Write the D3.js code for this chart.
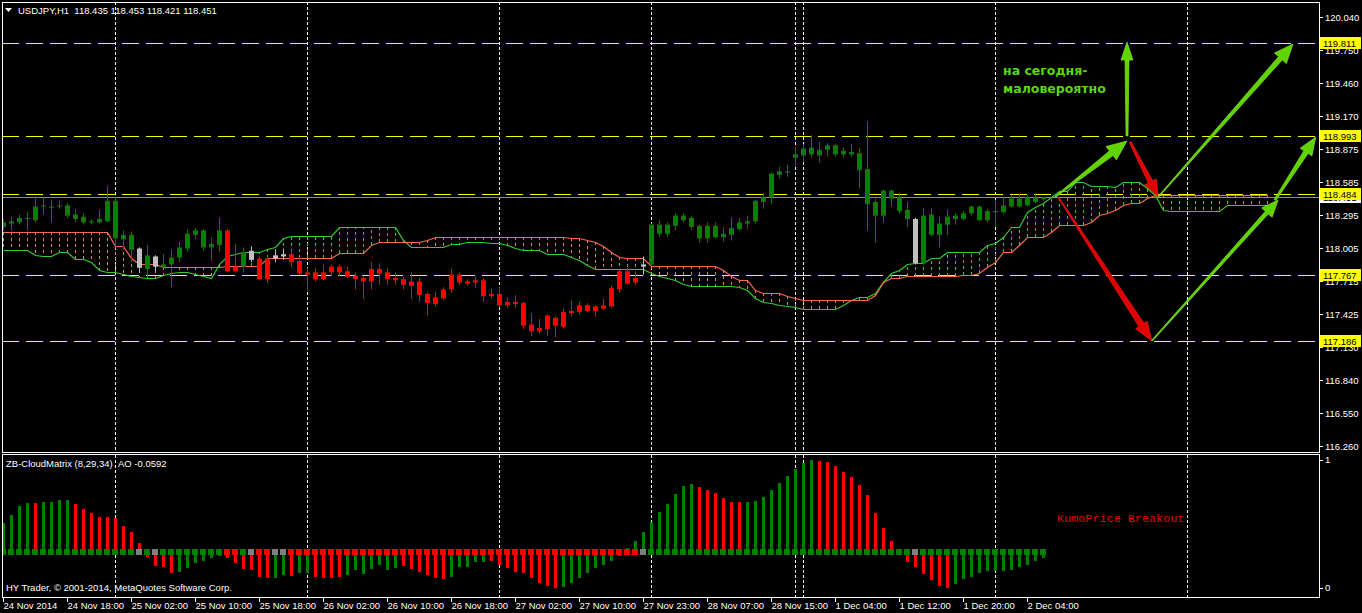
<!DOCTYPE html>
<html><head><meta charset="utf-8">
<script src="https://cdn.jsdelivr.net/npm/d3@7"></script>
<style>
body{margin:0;background:#000;overflow:hidden}
svg{display:block}
text{font-family:"Liberation Sans",Arial,sans-serif}
</style></head>
<body><svg id="c" width="1362" height="613"></svg>
<script>
// ---------------- DATA ----------------
const symbolHeader = "USDJPY,H1\u00A0\u00A0118.435 118.453 118.421 118.451";
const indicatorHeader = "ZB-CloudMatrix (8,29,34)\u00A0\u00A0AO -0.0592";
const copyright = "HY Trader, \u00A9 2001-2014, MetaQuotes Software Corp.";

const candleOpen = [118.19,118.22,118.23,118.26,118.25,118.37,118.36,118.37,118.29,118.26,
118.23,118.23,118.23,118.24,118.09,118.08,117.99,117.83,117.82,117.84,
117.84,117.86,117.92,118.00,118.12,118.01,118.01,118.03,118.16,117.84,
117.84,117.90,117.91,117.91,117.91,117.93,117.95,117.89,117.79,117.79,
117.79,117.84,117.84,117.80,117.76,117.74,117.82,117.82,117.79,117.74,
117.73,117.71,117.71,117.60,117.57,117.64,117.77,117.77,117.71,117.72,
117.72,117.60,117.60,117.53,117.53,117.52,117.33,117.30,117.41,117.39,
117.44,117.45,117.50,117.50,117.49,117.50,117.65,117.80,117.80,117.74,
117.84,117.86,118.13,118.13,118.20,118.25,118.19,118.09,118.09,118.10,
118.10,118.12,118.17,118.22,118.24,118.41,118.45,118.65,118.67,118.80,
118.82,118.83,118.82,118.87,118.83,118.83,118.83,118.69,118.39,118.29,
118.29,118.44,118.33,118.26,117.87,117.87,118.12,118.12,118.21,118.26,
118.26,118.31,118.25,118.25,118.32,118.32,118.37,118.37,118.38,118.41,
118.435];
const candleHigh = [118.26,118.28,118.30,118.32,118.46,118.45,118.43,118.42,118.40,118.35,
118.31,118.26,118.34,118.55,118.45,118.16,118.15,118.01,118.03,117.94,
117.95,117.99,118.06,118.17,118.18,118.17,118.10,118.27,118.17,118.04,
118.01,118.02,117.93,117.93,117.99,118.00,117.98,117.92,117.83,117.83,
117.86,117.86,117.86,117.84,117.79,117.76,117.88,117.87,117.83,117.79,
117.75,117.79,117.74,117.61,117.62,117.66,117.82,117.79,117.73,117.75,
117.74,117.65,117.66,117.57,117.59,117.53,117.43,117.38,117.42,117.40,
117.47,117.54,117.53,117.52,117.50,117.56,117.67,117.81,117.83,117.80,
117.93,118.22,118.25,118.23,118.31,118.31,118.29,118.21,118.23,118.23,
118.19,118.27,118.27,118.29,118.43,118.49,118.67,118.72,118.74,118.90,
118.92,119.00,118.94,118.93,118.92,118.89,118.92,118.89,119.12,118.44,
118.52,118.52,118.49,118.41,118.27,118.36,118.36,118.28,118.34,118.31,
118.33,118.38,118.38,118.35,118.43,118.45,118.47,118.48,118.47,118.49,
118.453];
const candleLow = [118.16,118.16,118.21,118.16,118.23,118.30,118.23,118.35,118.27,118.23,
118.21,118.21,118.22,118.23,118.03,117.99,117.88,117.79,117.75,117.79,
117.83,117.66,117.88,117.97,118.08,117.98,117.89,117.97,117.79,117.79,
117.79,117.88,117.72,117.70,117.88,117.90,117.84,117.77,117.63,117.71,
117.72,117.76,117.76,117.74,117.64,117.56,117.64,117.68,117.68,117.68,
117.64,117.56,117.53,117.41,117.49,117.55,117.61,117.68,117.67,117.65,
117.53,117.56,117.48,117.48,117.48,117.29,117.23,117.25,117.23,117.22,
117.30,117.40,117.42,117.44,117.40,117.46,117.48,117.61,117.68,117.68,
117.77,117.85,118.10,118.10,118.16,118.23,118.16,118.05,118.05,118.09,
118.06,118.07,118.16,118.17,118.22,118.35,118.39,118.62,118.63,118.72,
118.77,118.80,118.76,118.81,118.81,118.80,118.81,118.53,118.16,118.05,
118.23,118.37,118.31,118.19,117.86,117.86,118.11,118.01,118.12,118.21,
118.25,118.29,118.24,118.23,118.19,118.31,118.36,118.36,118.37,118.40,
118.421];
const candleClose = [118.23,118.24,118.27,118.27,118.37,118.38,118.37,118.38,118.38,118.30,
118.28,118.24,118.26,118.42,118.42,118.12,118.12,118.00,117.94,117.93,
117.86,117.92,118.01,118.13,118.16,118.16,118.04,118.16,117.80,117.80,
117.97,117.98,117.73,117.73,117.94,117.95,117.88,117.78,117.77,117.73,
117.73,117.79,117.79,117.75,117.73,117.71,117.71,117.78,117.73,117.72,
117.68,117.67,117.59,117.52,117.51,117.56,117.64,117.70,117.69,117.70,
117.58,117.58,117.50,117.50,117.51,117.32,117.27,117.27,117.29,117.32,
117.31,117.43,117.44,117.45,117.45,117.47,117.49,117.64,117.69,117.70,
117.86,118.21,118.21,118.21,118.29,118.29,118.27,118.20,118.20,118.20,
118.13,118.18,118.23,118.24,118.42,118.45,118.66,118.68,118.68,118.83,
118.88,118.89,118.87,118.91,118.91,118.86,118.85,118.84,118.70,118.41,
118.51,118.51,118.45,118.34,118.26,118.29,118.30,118.22,118.28,118.29,
118.31,118.37,118.37,118.33,118.33,118.38,118.44,118.44,118.45,118.45,
118.451];
// candle / state colour per bar: g = bull state, r = bear state, w = neutral
const candleState = "ggggggggggggggggg" + "wgw" + "gggggggg" + "rrgwrrww" +
  "rrrrrrrrrrr" + "rrrrrrrrrrr" + "rrrrrrrrrrr" + "rrrrrrrrrrr" + "w" +
  "ggggggggggg" + "ggggggggggg" + "ggggggggggg" + "w" + "gggggggggggggggg";

// Ichimoku spans (shifted 26 bars forward)
const spanA = [118.146,118.146,118.146,118.146,118.146,118.146,118.146,118.146,118.146,118.146,
118.146,118.146,118.146,118.146,118.023,118.023,117.917,117.864,117.864,117.864,
117.838,117.838,117.838,117.838,117.838,117.838,117.838,117.838,117.846,117.846,
117.846,117.846,117.846,117.917,117.917,117.917,117.917,117.917,117.917,117.917,
117.917,117.917,117.961,117.961,117.961,117.961,118.031,118.058,118.058,118.058,
118.058,118.058,118.058,118.075,118.102,118.102,118.102,118.102,118.102,118.102,
118.102,118.102,118.102,118.102,118.102,118.102,118.102,118.102,118.102,118.102,
118.102,118.093,118.093,118.075,118.058,118.023,117.970,117.926,117.917,117.917,
117.917,117.846,117.846,117.846,117.846,117.846,117.846,117.846,117.846,117.846,
117.811,117.758,117.723,117.723,117.635,117.608,117.608,117.608,117.582,117.564,
117.547,117.547,117.547,117.547,117.547,117.547,117.547,117.547,117.547,117.591,
117.705,117.741,117.741,117.758,117.758,117.758,117.758,117.758,117.758,117.758,
117.767,117.767,117.785,117.838,117.882,117.970,117.970,118.031,118.102,118.102,
118.102,118.146,118.208,118.208,118.208,118.208,118.234,118.296,118.313,118.340,
118.384,118.401,118.401,118.445,118.472,118.472,118.472,118.472,118.472,118.472,
118.472,118.472,118.472,118.472,118.472,118.472,118.472,118.472,118.472];
const spanB = [117.987,117.987,117.987,117.987,117.943,117.934,117.934,117.970,117.970,117.908,
117.908,117.882,117.811,117.793,117.793,117.776,117.758,117.749,117.741,117.741,
117.767,117.785,117.793,117.793,117.776,117.758,117.741,117.864,117.934,117.952,
117.970,117.970,117.970,117.996,118.014,118.093,118.111,118.111,118.111,118.111,
118.111,118.111,118.190,118.190,118.190,118.190,118.190,118.190,118.190,118.190,
118.075,118.014,118.014,118.014,118.014,118.014,118.040,118.040,118.058,118.058,
118.058,118.049,118.049,118.031,118.005,117.987,117.987,117.987,117.952,117.952,
117.952,117.926,117.899,117.855,117.820,117.820,117.820,117.820,117.820,117.820,
117.820,117.785,117.758,117.741,117.723,117.688,117.670,117.670,117.670,117.670,
117.670,117.670,117.661,117.635,117.564,117.529,117.520,117.503,117.494,117.485,
117.467,117.467,117.467,117.467,117.467,117.503,117.547,117.573,117.573,117.608,
117.705,117.785,117.811,117.864,117.873,117.873,117.917,117.917,117.970,117.970,
117.970,117.970,117.970,118.031,118.049,118.102,118.190,118.190,118.322,118.366,
118.401,118.454,118.507,118.507,118.586,118.586,118.551,118.551,118.551,118.542,
118.586,118.586,118.586,118.534,118.472,118.340,118.331,118.331,118.331,118.331,
118.331,118.331,118.331,118.384,118.384,118.384,118.384,118.384,118.384];

// Awesome Oscillator histogram
const aoValues = [0.29,0.37,0.46,0.49,0.49,0.50,0.50,0.52,0.52,0.48,
0.43,0.39,0.35,0.35,0.34,0.26,0.20,0.09,-0.05,-0.14,
-0.15,-0.21,-0.20,-0.16,-0.11,-0.09,-0.06,-0.04,-0.06,-0.11,
-0.17,-0.18,-0.25,-0.26,-0.26,-0.23,-0.24,-0.21,-0.21,-0.25,
-0.26,-0.26,-0.25,-0.23,-0.18,-0.22,-0.17,-0.13,-0.18,-0.16,
-0.14,-0.17,-0.20,-0.23,-0.26,-0.27,-0.25,-0.15,-0.15,-0.10,
-0.10,-0.09,-0.13,-0.16,-0.20,-0.21,-0.26,-0.31,-0.34,-0.36,
-0.35,-0.31,-0.26,-0.21,-0.16,-0.13,-0.09,-0.04,0.04,0.11,
0.20,0.30,0.40,0.48,0.58,0.66,0.68,0.65,0.62,0.59,
0.54,0.50,0.50,0.50,0.51,0.55,0.62,0.69,0.76,0.83,
0.89,0.92,0.91,0.90,0.86,0.80,0.75,0.67,0.57,0.39,
0.24,0.11,0.01,-0.10,-0.15,-0.22,-0.28,-0.34,-0.36,-0.32,
-0.27,-0.25,-0.21,-0.19,-0.19,-0.19,-0.18,-0.15,-0.13,-0.09,
-0.0592];
const aoColors = "gggg"+"r"+"gggg"+"rrrrrrrrrrrrr"+"gggggg"+"rrrrrr"+"gg"+"r"+"gg"+"rrrr"+
  "ggggggg"+"rrrrrr"+"ggggg"+"rrrrrrrrr"+"ggggggggggggggggg"+"rrrrrr"+"ggggggggg"+
  "rrrrrrrrrrrrrrrrr"+"gggggggggggg";

// axes
const priceTicks = [120.040,119.750,119.460,119.170,118.880,118.585,118.295,118.005,117.715,117.425,117.135,116.840,116.550,116.260];
const priceTickLabels = ["120.040","119.750","119.460","119.170","118.875","118.585","118.295","118.005","117.715","117.425","117.130","116.840","116.550","116.260"];
const timeTickBars = [0,8,16,24,32,40,48,56,64,72,80,88,96,104,112,120,128];
const timeTickLabels = ["24 Nov 2014","24 Nov 18:00","25 Nov 02:00","25 Nov 10:00","25 Nov 18:00","26 Nov 02:00","26 Nov 10:00","26 Nov 18:00","27 Nov 02:00","27 Nov 10:00","27 Nov 23:00","28 Nov 07:00","28 Nov 15:00","1 Dec 04:00","1 Dec 12:00","1 Dec 20:00","2 Dec 04:00"];
const daySeparators = [14,38,62,81,99,100,124,148];
const levelLines = [119.811,118.993,118.484,117.767,117.186];
const bidPrice = 118.451;

// hand-drawn forecast arrows: [bar, price] -> [bar, price]
const arrowKinds = ["g","g","r","g","r","g","g"];
const arrowFrom = [[131.5,118.454],[140.5,118.992],[140.9,118.939],[144.4,118.454],[131.9,118.454],[143.6,117.186],[159.0,118.428]];
const arrowTo   = [[140.5,118.948],[140.5,119.820],[144.4,118.454],[161.25,119.802],[143.6,117.186],[159.4,118.428],[164.1,118.983]];
const noteLines = ["на сегодня-","маловероятно"];

// ---------------- DRAWING ----------------
const svg = d3.select("#c");
const C = {g:"#008000", r:"#ff0000", w:"#c0c0c0"};
const SQ = {g:"#008000", r:"#ff0000", w:"#808080"};
const spanAColor = "#ff6a4f", spanBColor = "#32cd32";
const hatchA = "#f07a60", hatchB = "#32cd32";

const x = d3.scaleLinear().domain([0,164]).range([3, 3+8*164]);
const y = d3.scaleLinear().domain([116.260,120.040]).range([446,17]);
const yAO = d3.scaleLinear().domain([-0.36,0.92]).range([588,460]);

const defs = svg.append("defs");
defs.append("clipPath").attr("id","cm").append("rect").attr("x",2).attr("y",2).attr("width",1317).attr("height",450);
defs.append("clipPath").attr("id","ci").append("rect").attr("x",2).attr("y",455).attr("width",1317).attr("height",142);

const main = svg.append("g").attr("clip-path","url(#cm)");
const ind = svg.append("g").attr("clip-path","url(#ci)");

// day separators
daySeparators.forEach(b=>{
  const xx = Math.round(x(b))+0.5;
  main.append("line").attr("x1",xx).attr("x2",xx).attr("y1",2).attr("y2",452)
    .attr("stroke","#fff").attr("stroke-dasharray","3,2");
  ind.append("line").attr("x1",xx).attr("x2",xx).attr("y1",455).attr("y2",597)
    .attr("stroke","#fff").attr("stroke-dasharray","3,2");
});

// level lines
levelLines.forEach(p=>{
  const yy = Math.round(y(p))+0.5;
  main.append("line").attr("x1",2).attr("x2",1319).attr("y1",yy).attr("y2",yy)
    .attr("stroke","#ffff00").attr("stroke-dasharray","17,7");
});
// bid line
{
  const yy = Math.round(y(bidPrice))+0.5;
  main.append("line").attr("x1",2).attr("x2",1319).attr("y1",yy).attr("y2",yy).attr("stroke","#8c8c96");
}

// cloud hatch
const nSpan = Math.min(spanA.length, spanB.length);
for(let i=0;i<nSpan;i++){
  const ya=y(spanA[i]), yb=y(spanB[i]);
  if(Math.abs(ya-yb)<1) continue;
  const xx=Math.round(x(i))+0.5;
  main.append("line").attr("x1",xx).attr("x2",xx).attr("y1",ya).attr("y2",yb)
    .attr("stroke", ya<yb?hatchA:hatchB).attr("stroke-dasharray","3,3");
}
const lineGen = d3.line().x((d,i)=>Math.round(x(i))+0.5).y(d=>Math.round(y(d))+0.5);
main.append("path").datum(spanB).attr("d",lineGen).attr("fill","none").attr("stroke",spanBColor).attr("stroke-width",1.2);
main.append("path").datum(spanA).attr("d",lineGen).attr("fill","none").attr("stroke",spanAColor).attr("stroke-width",1.2);

// candles
for(let i=0;i<candleOpen.length;i++){
  const col = C[candleState[i]];
  const xx = Math.round(x(i));
  main.append("line").attr("x1",xx+0.5).attr("x2",xx+0.5)
    .attr("y1",y(candleHigh[i])).attr("y2",y(candleLow[i])).attr("stroke",col);
  const t = y(Math.max(candleOpen[i],candleClose[i])), b = y(Math.min(candleOpen[i],candleClose[i]));
  main.append("rect").attr("x",xx-2).attr("width",5).attr("y",t).attr("height",Math.max(1,b-t)).attr("fill",col);
}

// arrows
function arrowPath(x1,y1,x2,y2,w0,w1,hw,hl){
  const dx=x2-x1, dy=y2-y1, L=Math.hypot(dx,dy), ux=dx/L, uy=dy/L, nx=-uy, ny=ux;
  const bx=x2-ux*hl, by=y2-uy*hl;
  const p=[[x1+nx*w0/2,y1+ny*w0/2],[bx+nx*w1/2,by+ny*w1/2],[bx+nx*hw/2,by+ny*hw/2],[x2,y2],
           [bx-nx*hw/2,by-ny*hw/2],[bx-nx*w1/2,by-ny*w1/2],[x1-nx*w0/2,y1-ny*w0/2]];
  return "M"+p.map(q=>q[0].toFixed(1)+","+q[1].toFixed(1)).join("L")+"Z";
}
const arrowSize = [[1,6,17,20],[2,4,12,18],[2,5,13,17],[1,5,16,19],[1,6,14,19],[1,4,14,17],[2,5,14,18]];
arrowFrom.forEach((f,k)=>{
  const t=arrowTo[k], s=arrowSize[k];
  const green = arrowKinds[k]==="g";
  main.append("path").attr("d",arrowPath(x(f[0]),y(f[1]),x(t[0]),y(t[1]),s[0],s[1],s[2],s[3]))
    .attr("fill", green?"#5fd400":"#e00000").attr("stroke", green?"#8cf030":"#ff2020").attr("stroke-width",0.6);
});

// note text
noteLines.forEach((s,k)=>{
  svg.append("text").attr("x",x(125)).attr("y",75+k*18).text(s)
    .attr("fill","#5ad80a").attr("font-size",12.5).attr("font-weight","bold")
    .style("font-family","'DejaVu Sans',sans-serif");
});

// indicator panel
for(let i=0;i<aoValues.length;i++){
  const xx=Math.round(x(i));
  const v=aoValues[i], y0=yAO(0), y1=yAO(v);
  ind.append("rect").attr("x",xx-1).attr("width",3).attr("y",Math.min(y0,y1)).attr("height",Math.abs(y1-y0))
    .attr("fill",C[aoColors[i]]);
}
for(let i=0;i<aoValues.length;i++){
  const xx=Math.round(x(i));
  ind.append("rect").attr("x",xx-3).attr("width",6).attr("y",yAO(0)-3).attr("height",6)
    .attr("fill",SQ[candleState[i]]);
}
svg.append("text").attr("x",1057).attr("y",522).text("KumoPrice Breakout")
  .attr("fill","#e00000").attr("font-size",11.8).style("font-family","'Liberation Mono',monospace");

// frames
svg.append("rect").attr("x",2.5).attr("y",2.5).attr("width",1317).attr("height",450).attr("fill","none").attr("stroke","#fff");
svg.append("rect").attr("x",2.5).attr("y",454.5).attr("width",1317).attr("height",143).attr("fill","none").attr("stroke","#fff");

// right price axis
const FS=9.5;
priceTicks.forEach((p,k)=>{
  const yy=Math.round(y(p))+0.5;
  svg.append("line").attr("x1",1320).attr("x2",1323).attr("y1",yy).attr("y2",yy).attr("stroke","#fff");
  svg.append("text").attr("x",1325).attr("y",yy).attr("dy","0.35em").text(priceTickLabels[k])
    .attr("fill","#fff").attr("font-size",FS);
});
function priceBox(p,bg){
  const yy=Math.round(y(p));
  svg.append("rect").attr("x",1320).attr("y",yy-6).attr("width",41).attr("height",12).attr("fill",bg);
  svg.append("text").attr("x",1323).attr("y",yy+0.5).attr("dy","0.35em").text(p.toFixed(3))
    .attr("fill","#000").attr("font-size",FS);
}
priceBox(bidPrice,"#ffffff");
levelLines.forEach(p=>priceBox(p,"#ffff00"));
[[1,460],[0,588]].forEach(d=>{
  svg.append("line").attr("x1",1320).attr("x2",1323).attr("y1",d[1]+0.5).attr("y2",d[1]+0.5).attr("stroke","#fff");
  svg.append("text").attr("x",1325).attr("y",d[1]).attr("dy","0.35em").text(d[0]).attr("fill","#fff").attr("font-size",FS);
});

// bottom time axis
timeTickBars.forEach((b,k)=>{
  const xx=Math.round(x(b))+0.5;
  svg.append("line").attr("x1",xx).attr("x2",xx).attr("y1",598).attr("y2",602).attr("stroke","#fff");
  svg.append("text").attr("x",xx).attr("y",609).text(timeTickLabels[k]).attr("fill","#fff").attr("font-size",FS);
});

// headers
svg.append("path").attr("d","M5,8L12,8L8.5,12Z").attr("fill","#fff");
svg.append("text").attr("x",18).attr("y",14).text(symbolHeader).attr("fill","#fff").attr("font-size",FS);
svg.append("text").attr("x",6).attr("y",467).text(indicatorHeader).attr("fill","#fff").attr("font-size",FS);
svg.append("text").attr("x",6).attr("y",591).text(copyright).attr("fill","#fff").attr("font-size",FS);
</script></body></html>
